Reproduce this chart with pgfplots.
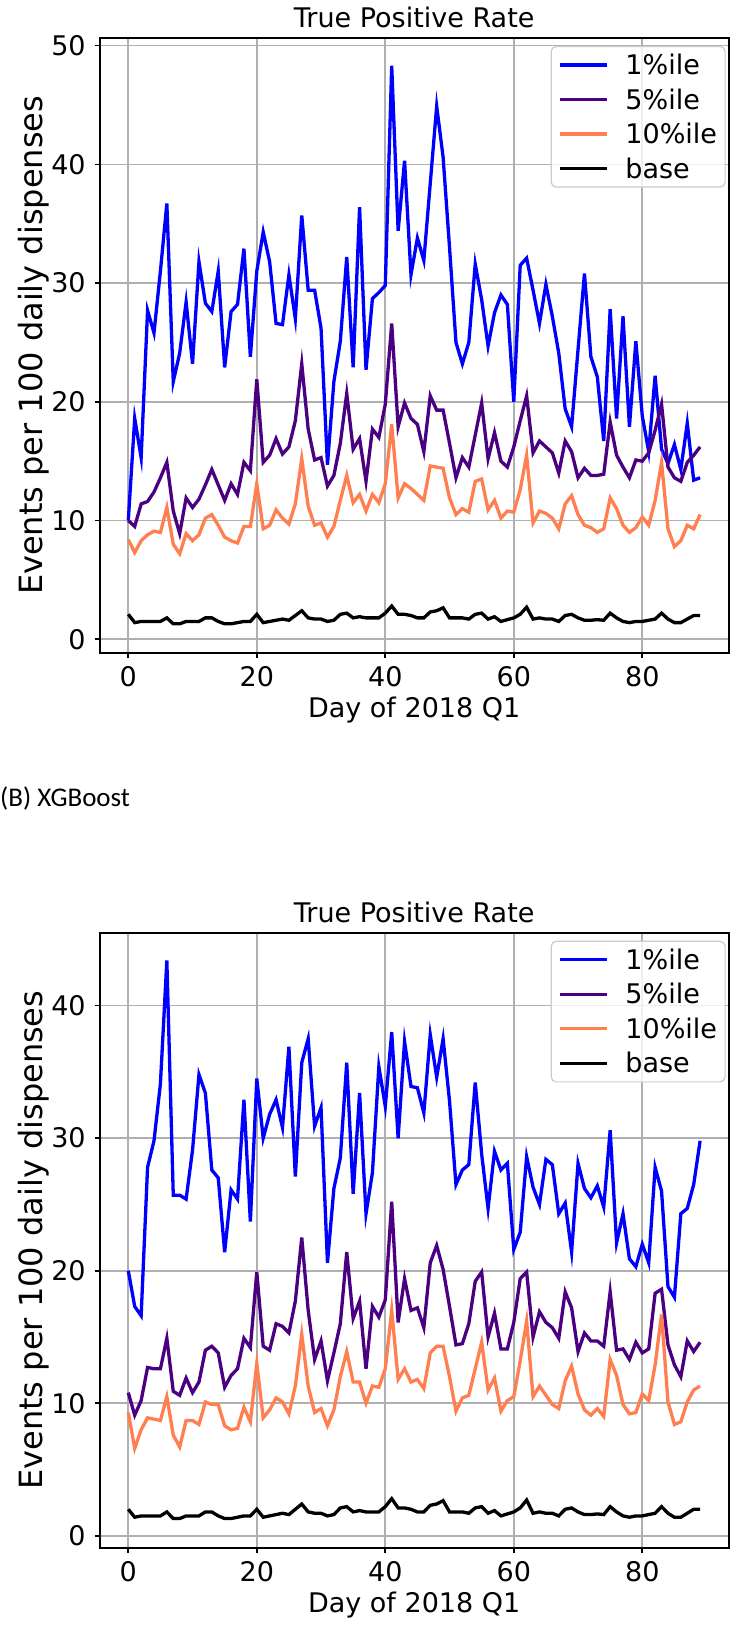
\documentclass[border=0pt]{standalone}
\usepackage{fontspec}
\setmainfont{DejaVu Sans}
\newfontfamily\capfont{Carlito}
\usepackage{pgfplots}
\usepackage{pgfplotstable}
\pgfplotsset{compat=1.18}
\definecolor{cone}{RGB}{0,0,255}
\definecolor{cfive}{RGB}{75,0,130}
\definecolor{cten}{RGB}{255,127,80}
\definecolor{gridc}{RGB}{176,176,176}
\definecolor{legc}{RGB}{204,204,204}
\newcommand\tfont{\fontsize{27}{32}\selectfont}

\pgfplotstableread{
day p1 p5 p10 base
0 10.0 10.0 8.4 2.1
1 18.6 9.5 7.3 1.4
2 15.3 11.4 8.3 1.5
3 27.7 11.6 8.8 1.5
4 25.8 12.4 9.1 1.5
5 31.0 13.6 9.0 1.5
6 36.7 14.9 11.1 1.8
7 21.7 10.8 8.0 1.3
8 24.1 8.9 7.2 1.3
9 28.4 11.9 8.9 1.5
10 23.2 11.1 8.3 1.5
11 31.8 11.8 8.8 1.5
12 28.3 13.0 10.2 1.8
13 27.6 14.3 10.5 1.8
14 31.0 13.0 9.6 1.5
15 22.9 11.7 8.6 1.3
16 27.6 13.1 8.3 1.3
17 28.2 12.2 8.1 1.4
18 32.9 14.9 9.5 1.5
19 23.8 14.2 9.5 1.5
20 31.0 21.9 13.1 2.1
21 34.3 14.9 9.3 1.4
22 31.8 15.5 9.6 1.5
23 26.6 16.9 10.9 1.6
24 26.5 15.6 10.2 1.7
25 30.7 16.2 9.7 1.6
26 27.0 18.4 11.4 2.0
27 35.7 23.2 15.2 2.4
28 29.4 17.7 11.2 1.8
29 29.4 15.1 9.6 1.7
30 26.2 15.3 9.8 1.7
31 14.7 12.9 8.6 1.5
32 21.7 13.8 9.5 1.6
33 25.1 16.5 11.7 2.1
34 32.2 20.7 13.8 2.2
35 22.9 16.0 11.5 1.8
36 36.4 16.9 12.2 1.9
37 22.7 13.3 10.8 1.8
38 28.7 17.7 12.2 1.8
39 29.2 17.0 11.5 1.8
40 29.8 19.8 13.1 2.2
41 48.3 26.6 18.1 2.8
42 34.4 17.9 11.9 2.1
43 40.3 19.9 13.1 2.1
44 30.7 18.6 12.7 2.0
45 33.8 18.1 12.2 1.8
46 31.9 15.8 11.7 1.8
47 38.4 20.5 14.6 2.3
48 44.9 19.3 14.5 2.4
49 40.6 19.3 14.4 2.65
50 33.0 16.5 11.9 1.8
51 25.0 13.6 10.5 1.8
52 23.2 15.3 11.0 1.8
53 25.0 14.5 10.7 1.7
54 31.6 17.2 13.3 2.1
55 28.6 19.9 13.5 2.2
56 24.7 15.2 10.9 1.7
57 27.5 17.4 11.7 1.9
58 29.0 15.0 10.2 1.5
59 28.2 14.5 10.8 1.65
60 20.0 16.2 10.7 1.8
61 31.5 18.4 12.6 2.1
62 32.1 20.5 15.5 2.7
63 29.4 15.7 9.8 1.7
64 26.6 16.7 10.8 1.8
65 29.9 16.2 10.6 1.7
66 27.2 15.7 10.2 1.7
67 24.1 14.0 9.3 1.5
68 19.4 16.7 11.4 2.0
69 17.9 15.8 12.1 2.1
70 24.4 13.6 10.5 1.8
71 30.8 14.4 9.6 1.6
72 23.8 13.8 9.4 1.6
73 22.1 13.8 9.0 1.65
74 16.7 13.9 9.3 1.6
75 27.8 18.3 11.9 2.2
76 18.6 15.5 11.0 1.8
77 27.2 14.5 9.6 1.5
78 17.9 13.6 9.0 1.4
79 25.1 15.1 9.4 1.5
80 18.8 15.0 10.3 1.5
81 15.8 15.7 9.6 1.6
82 22.2 17.6 11.7 1.7
83 16.0 19.8 14.9 2.2
84 14.8 14.5 9.3 1.7
85 16.4 13.6 7.8 1.4
86 14.3 13.3 8.3 1.4
87 18.2 14.9 9.6 1.7
88 13.4 15.5 9.3 2.0
89 13.6 16.2 10.5 2.0
}\topdata

\pgfplotstableread{
day p1 p5 p10 base
0 20.0 10.8 9.3 2.0
1 17.3 9.1 6.6 1.4
2 16.6 10.2 8.0 1.5
3 27.8 12.7 8.9 1.5
4 29.8 12.6 8.8 1.5
5 34.1 12.6 8.7 1.5
6 43.4 14.9 10.5 1.8
7 25.7 10.9 7.6 1.3
8 25.7 10.6 6.7 1.3
9 25.4 11.9 8.7 1.5
10 29.1 10.8 8.7 1.5
11 34.8 11.6 8.4 1.5
12 33.4 14.0 10.1 1.8
13 27.6 14.3 9.9 1.8
14 27.0 13.8 9.9 1.5
15 21.4 11.2 8.3 1.3
16 26.1 12.1 8.0 1.3
17 25.4 12.6 8.1 1.4
18 32.9 14.9 9.7 1.5
19 23.7 14.2 8.6 1.5
20 34.5 19.9 13.0 2.0
21 30.0 14.3 8.9 1.4
22 31.8 14.0 9.5 1.5
23 32.9 16.0 10.4 1.6
24 30.8 15.8 10.1 1.7
25 36.9 15.3 9.2 1.6
26 27.1 17.7 11.3 2.0
27 35.7 22.5 15.2 2.4
28 37.5 17.0 11.3 1.8
29 30.9 13.3 9.3 1.7
30 32.3 14.7 9.6 1.7
31 20.6 11.7 8.3 1.5
32 26.2 13.8 9.5 1.6
33 28.5 16.0 12.0 2.1
34 35.7 21.4 13.9 2.2
35 25.8 16.4 11.6 1.8
36 33.4 17.7 11.6 1.9
37 24.3 12.6 10.0 1.8
38 27.4 17.3 11.3 1.8
39 35.4 16.5 11.2 1.8
40 32.4 17.8 12.6 2.2
41 38.0 25.2 17.0 2.8
42 30.0 16.1 11.8 2.1
43 37.3 19.4 12.6 2.1
44 33.9 17.0 11.6 2.0
45 33.8 17.2 11.8 1.8
46 31.9 15.7 11.1 1.8
47 37.8 20.6 13.8 2.3
48 34.6 21.9 14.3 2.4
49 37.5 20.1 14.3 2.65
50 32.8 17.3 12.0 1.8
51 26.5 14.4 9.4 1.8
52 27.6 14.5 10.4 1.8
53 28.0 16.0 10.6 1.7
54 34.2 19.2 12.6 2.1
55 28.8 19.9 14.6 2.2
56 24.7 15.0 11.0 1.7
57 29.0 16.8 11.9 1.9
58 27.6 14.1 9.4 1.5
59 28.1 14.1 10.2 1.65
60 21.6 16.1 10.5 1.8
61 22.9 19.4 13.2 2.1
62 28.6 19.9 16.2 2.7
63 26.3 15.0 10.5 1.7
64 25.0 16.9 11.3 1.8
65 28.4 16.1 10.6 1.7
66 28.0 15.7 9.9 1.7
67 24.3 14.9 9.6 1.5
68 25.1 18.4 11.7 2.0
69 21.4 17.2 12.8 2.1
70 28.1 13.9 10.7 1.8
71 26.2 15.3 9.5 1.6
72 25.5 14.7 9.1 1.6
73 26.4 14.7 9.6 1.65
74 24.8 14.3 9.0 1.6
75 30.6 18.4 13.3 2.2
76 22.1 14.0 12.1 1.8
77 24.3 14.1 9.9 1.5
78 20.9 13.3 9.2 1.4
79 20.3 14.6 9.3 1.5
80 22.0 13.8 10.7 1.5
81 20.6 14.1 10.2 1.6
82 27.8 18.3 12.9 1.7
83 26.0 18.6 16.7 2.2
84 18.8 14.4 10.1 1.7
85 18.0 12.9 8.4 1.4
86 24.3 12.0 8.6 1.4
87 24.7 14.7 10.1 1.7
88 26.5 13.9 11.0 2.0
89 29.8 14.6 11.3 2.0
}\botdata

\pgfplotsset{
  tpr/.style={
    scale only axis, width=629pt, height=615pt,
    xmin=-4.45, xmax=93.45,
    xtick={0,20,40,60,80},
    ytick={0,10,20,30,40,50},
    grid=major, major grid style={gridc, line width=1.6pt},
    axis line style={line width=2pt},
    every tick/.style={black, line width=1.6pt},
    tick align=outside, major tick length=5pt,
    tick pos=left,
    /pgf/number format/assume math mode=true,
    ticklabel style={font=\tfont},
    xticklabel style={yshift=-5pt},
    yticklabel style={xshift=-5.5pt},
    title={True Positive Rate},
    title style={font=\tfont},
    xlabel={Day of 2018 Q1},
    xlabel style={font=\tfont, at={([yshift=-65pt]axis description cs:0.5,0)}, anchor=base},
    ylabel={Events per 100 daily dispenses},
    ylabel style={font=\fontsize{32}{38}\selectfont, at={([xshift=-57pt]axis description cs:0,0.5)}, anchor=base},
    legend cell align=left,
    legend style={at={(1,1)}, anchor=north east, xshift=-3pt, yshift=-8pt,
      draw=legc, line width=1.2pt, rounded corners=5pt, fill=white, fill opacity=0.8, text opacity=1,
      font=\tfont, inner xsep=7pt, inner ysep=6.5pt, row sep=10.5pt, nodes={inner sep=1pt},
      /tikz/every odd column/.style={column sep=16pt}},
    legend image code/.code={\draw[#1, line width=3.3pt] (0pt,0pt) -- (47pt,0pt);},
  },
  s1/.style={cone, line width=3.3pt},
  s5/.style={cfive, line width=3.3pt},
  s10/.style={cten, line width=3.3pt},
  sb/.style={black, line width=3.3pt},
}

\begin{document}
\begin{tikzpicture}
\path[use as bounding box] (0pt,0pt) rectangle (734pt,-1625pt);

\begin{axis}[tpr, at={(99.7pt,-37.9pt)}, anchor=north west, ymin=-1.15, ymax=50.65]
\addplot[s1] table[x=day, y=p1] {\topdata};
\addplot[s5] table[x=day, y=p5] {\topdata};
\addplot[s10] table[x=day, y=p10] {\topdata};
\addplot[sb] table[x=day, y=base] {\topdata};
\legend{1\%ile, 5\%ile, 10\%ile, base}
\end{axis}

\node[anchor=west, inner sep=0pt, font=\capfont\fontsize{27}{32}\selectfont] at (0pt,-798pt) {(B) XGBoost};

\begin{axis}[tpr, at={(99.7pt,-932.7pt)}, anchor=north west, ymin=-0.9, ymax=45.5, ytick={0,10,20,30,40}]
\addplot[s1] table[x=day, y=p1] {\botdata};
\addplot[s5] table[x=day, y=p5] {\botdata};
\addplot[s10] table[x=day, y=p10] {\botdata};
\addplot[sb] table[x=day, y=base] {\botdata};
\legend{1\%ile, 5\%ile, 10\%ile, base}
\end{axis}
\end{tikzpicture}
\end{document}
